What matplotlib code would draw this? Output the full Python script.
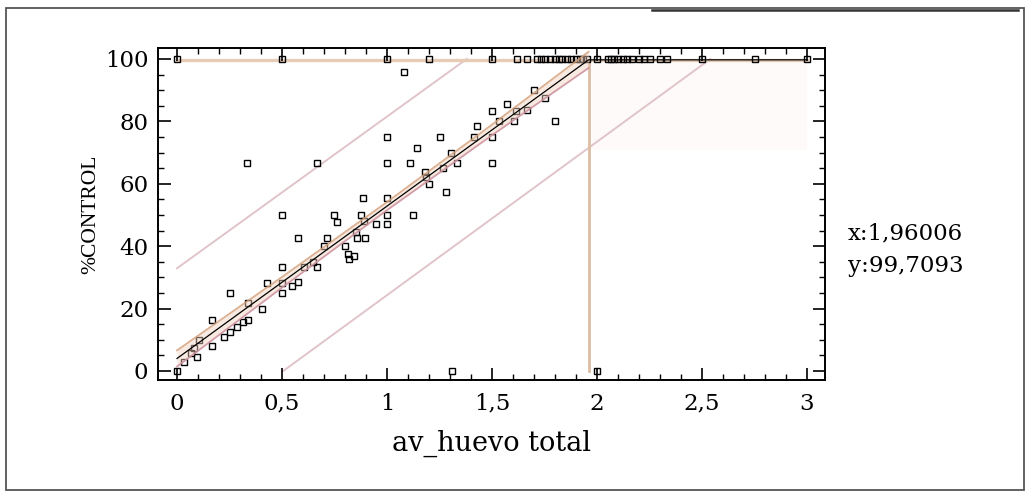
import numpy as np
import matplotlib.pyplot as plt
from matplotlib.patches import Rectangle
from matplotlib.lines import Line2D
from matplotlib.ticker import MultipleLocator

plt.rcParams["font.family"] = ["DejaVu Serif"]

# puntos observados (av_huevo total, %CONTROL)
x_puntos = [
    0, 0.5, 1.0, 1.2, 1.5, 1.617, 1.667,
    1.714, 1.733, 1.75, 1.778, 1.8, 1.818, 1.833, 1.857, 1.875, 1.9, 1.917, 1.933, 1.95,
    2.0, 2.05, 2.067, 2.083, 2.1, 2.125, 2.143, 2.167, 2.2, 2.222, 2.25, 2.3, 2.333,
    2.5, 2.75, 3.0,
    0, 0.033, 0.094, 0.067, 0.083, 0.104, 0.167, 0.167, 0.222, 0.25, 0.25, 0.288,
    0.316, 0.336, 0.336, 0.403, 0.43, 0.5, 0.5, 0.5, 0.5, 0.549, 0.574, 0.574,
    0.603, 0.647, 0.667, 0.701, 0.715, 0.747, 0.762, 0.80, 0.813, 0.818, 0.842,
    0.852, 0.857, 0.878, 0.89, 0.895, 0.888, 0.948, 1.0, 1.0, 1.0, 1.0, 1.0,
    1.125, 1.111, 1.081, 1.143, 1.18, 1.187, 1.198, 1.25, 1.267, 1.281, 1.303,
    1.333, 1.31, 1.416, 1.428, 1.5, 1.5, 1.5, 1.533, 1.571, 1.605, 1.615, 1.667,
    1.70, 1.754, 1.80, 0.333, 0.667, 2.0,
]
y_puntos = [
    100, 100, 100, 100, 100, 100, 100,
    100, 100, 100, 100, 100, 100, 100, 100, 100, 100, 100, 100, 100,
    100, 100, 100, 100, 100, 100, 100, 100, 100, 100, 100, 100, 100,
    100, 100, 100,
    0, 3.0, 4.4, 5.9, 7.3, 9.8, 8.0, 16.3, 10.8, 12.4, 25.0, 14.1,
    15.6, 16.4, 21.8, 20.0, 28.3, 25.0, 28.2, 33.3, 50.0, 27.2, 28.4, 42.6,
    33.3, 34.9, 33.3, 40.0, 42.6, 50.0, 47.6, 40.0, 37.5, 36.0, 36.7,
    44.4, 42.6, 50.0, 47.9, 42.6, 55.5, 47.0, 47.0, 50.0, 55.5, 66.7, 75.0,
    50.0, 66.7, 95.8, 71.4, 63.6, 62.3, 60.0, 75.0, 65.2, 57.2, 70.0,
    66.7, 0, 75.0, 78.4, 75.0, 66.7, 83.3, 80.0, 85.7, 80.0, 83.3, 83.7,
    90.0, 87.5, 80.0, 66.7, 66.7, 0,
]

# modelo segmentado: recta hasta el punto de corte y luego constante
x_corte = 1.96006
y_corte = 99.7093
y_inicio = 4.0
x_fin = 3.0

# banda de confianza (semiancho)
conf_x = [0, 0.5, 1.0, 1.5, x_corte]
conf_semiancho = [2.6, 1.7, 1.3, 1.7, 2.6]

# limites de prediccion (vertices)
pred_sup_x = [0, 1.38]
pred_sup_y = [32.9, 100]
pred_inf_x = [0.506, 2.54]
pred_inf_y = [0, 100]

xticks = [0, 0.5, 1, 1.5, 2, 2.5, 3]
xtick_labels = ["0", "0,5", "1", "1,5", "2", "2,5", "3"]
yticks = [0, 20, 40, 60, 80, 100]

fig = plt.figure(figsize=(10.33, 4.99), dpi=100)
ax = fig.add_axes([158 / 1033, 1 - 380 / 499, 667 / 1033, 332 / 499])

# zona de prediccion del tramo constante (muy tenue)
ax.fill_between([x_corte, x_fin], y_corte - 29, 100, color="#fefafa", lw=0, zorder=0)

# limites de prediccion
ax.plot(pred_sup_x, pred_sup_y, color="#e0c4c9", lw=1.4, zorder=1)
ax.plot(pred_inf_x, pred_inf_y, color="#e0c4c9", lw=1.4, zorder=1)

# linea vertical en el punto de corte y tramo horizontal
ax.plot([x_corte, x_corte], [0, y_corte], color="#dcbda3", lw=2, zorder=1)
ax.plot([0, x_fin], [y_corte, y_corte], color="#e6cbb6", lw=2.4, zorder=1)

# puntos
ax.plot(x_puntos, y_puntos, ls="none", marker="s", markersize=5.0,
        markerfacecolor="none", markeredgecolor="black", markeredgewidth=1.0, zorder=2)

# recta ajustada y banda de confianza
pendiente = (y_corte - y_inicio) / x_corte
ajuste = y_inicio + pendiente * np.array(conf_x)
ax.fill_between(conf_x, ajuste - np.array(conf_semiancho), ajuste + np.array(conf_semiancho),
                color="#f1d2bd", alpha=0.45, lw=0, zorder=3)
ax.plot(conf_x, ajuste + np.array(conf_semiancho), color="#d6a37f", lw=1.3, alpha=0.85, zorder=3)
ax.plot(conf_x, ajuste - np.array(conf_semiancho), color="#cc8f9e", lw=1.3, alpha=0.85, zorder=3)
ax.plot([0, x_corte, x_fin], [y_inicio, y_corte, y_corte], color="black", lw=0.9, zorder=4)

ax.set_xlim(-0.0905, 3.0857)
ax.set_ylim(-2.9, 103.5)
ax.set_xticks(xticks)
ax.set_xticklabels(xtick_labels)
ax.set_yticks(yticks)
ax.xaxis.set_minor_locator(MultipleLocator(0.1))
ax.yaxis.set_minor_locator(MultipleLocator(5))
ax.tick_params(which="both", direction="in", top=True, right=True, labelsize=16.5)
ax.tick_params(axis="x", pad=9)
ax.tick_params(axis="y", pad=7)
ax.tick_params(which="major", length=9, width=1.2)
ax.tick_params(which="minor", length=4.5, width=1.0)
for lado in ax.spines.values():
    lado.set_linewidth(1.4)

ax.set_xlabel("av_huevo total", fontsize=19.5, labelpad=11)
ax.set_ylabel("%CONTROL", fontsize=15.5, family="Liberation Serif")
ax.yaxis.set_label_coords(-0.087, 0.5)

fig.text(848 / 1033, 1 - 233 / 499, "x:1,96006", fontsize=16.5, va="center")
fig.text(848 / 1033, 1 - 266 / 499, "y:99,7093", fontsize=16.5, va="center")

# marco exterior
fig.patches.append(Rectangle((6 / 1033, 1 - 490 / 499), 1018 / 1033, 482 / 499,
                             transform=fig.transFigure, fill=False, edgecolor="#555555", lw=1.3))
fig.lines.append(Line2D([652 / 1033, 1018 / 1033], [1 - 10 / 499, 1 - 10 / 499],
                        transform=fig.transFigure, color="#333333", lw=1.8))

plt.savefig("out.png", dpi=100)
